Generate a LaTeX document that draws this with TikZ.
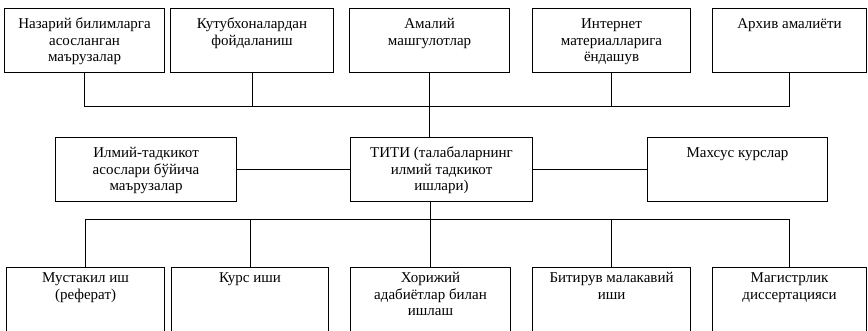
\documentclass[tikz,border=0pt]{standalone}
\usepackage{fontspec}
\setmainfont{Liberation Serif}
\tikzstyle{cell}=[draw, line width=1.1pt, inner sep=0pt, anchor=north west]
\tikzstyle{link}=[line width=0.8pt]
% box text: [top strut]{width}{height}{lines}
\newcommand{\celltext}[4][20]{\parbox[t][#3pt][t]{#2pt}{\centering\rule{0pt}{#1pt}#4}}
\begin{document}
\begin{tikzpicture}[x=1pt, y=1pt, yscale=-1, font=\fontsize{15}{16.5}\selectfont]
	\useasboundingbox (0,0) rectangle (868,330);
	\clip (0,0) rectangle (868,330);
	% upper row of boxes
	\foreach \n/\x/\w/\t in {T1/4/160/{Назарий билимларга\\асосланган\\маърузалар},
		T2/170/163/{Кутубхоналардан\\фойдаланиш}, T3/349/160/{Амалий\\машгулотлар},
		T4/532/158/{Интернет\\материалларига\\ёндашув}, T5/712/154/{Архив амалиёти}}{
		\node[cell] (\n) at (\x, 8) {\celltext{\w}{64}{\t}};
	}
	% middle row
	\node[cell] (M1) at (55,137) {\celltext{181}{64}{Илмий-тадкикот\\асослари бўйича\\маърузалар}};
	\node[cell] (M2) at (350,137) {\celltext{182}{64}{ТИТИ (талабаларнинг\\илмий тадкикот\\ишлари)}};
	\node[cell] (M3) at (647,137) {\celltext{180}{64}{Махсус курслар}};
	% lower row, cut off at the bottom
	\foreach \n/\x/\w/\t in {B1/6/158/{Мустакил иш\\(реферат)}, B2/171/157/{Курс иши},
		B3/350/160/{Хорижий\\адабиётлар билан\\ишлаш}, B4/532/158/{Битирув малакавий\\иши},
		B5/712/154/{Магистрлик\\диссертацияси}}{
		\node[cell] (\n) at (\x, 267) {\celltext[15]{\w}{75}{\t}};
	}
	% connectors
	\coordinate (upbus) at (0,106);
	\coordinate (lowbus) at (0,219);
	\draw[link] (T1.south) |- (T5.south |- upbus) -- (T5.south);
	\draw[link] (T2.south) -- (T2.south |- upbus);
	\draw[link] (T4.south) -- (T4.south |- upbus);
	\draw[link] (T3.south) -- (T3.south |- M2.north);
	\draw[link] (M1.east) -- (M2.west);
	\draw[link] (M2.east) -- (M3.west);
	\draw[link] (B1.north) |- (B5.north |- lowbus) -- (B5.north);
	\draw[link] (B2.north) -- (B2.north |- lowbus);
	\draw[link] (B4.north) -- (B4.north |- lowbus);
	\draw[link] (B3.north |- M2.south) -- (B3.north);
\end{tikzpicture}
\end{document}
